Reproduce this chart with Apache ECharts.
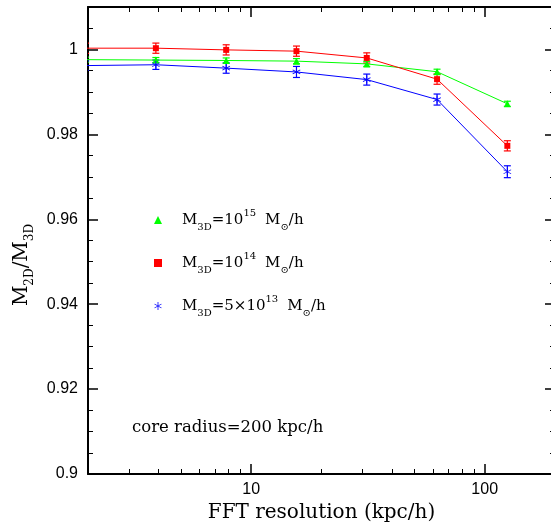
<!DOCTYPE html>
<html>
<head>
<meta charset="utf-8">
<script src="https://cdn.jsdelivr.net/npm/echarts@6/dist/echarts.min.js"></script>
<style>html,body{margin:0;padding:0;background:#fff;}#c{width:551px;height:525px;}</style>
</head>
<body>
<div id="c"></div>
<script>
// ---- data ----
const xRes = [1.953, 3.906, 7.8125, 15.625, 31.25, 62.5, 125];           // FFT resolution (kpc/h)
const ratio15 = [0.9976, 0.9975, 0.9974, 0.99725, 0.9966, 0.99475, 0.9872]; // M3D = 1e15
const err15   = [0.0006, 0.0006, 0.0006, 0.0006, 0.0006, 0.0006, 0.0006];
const ratio14 = [1.0003, 1.0003, 0.9999, 0.9996, 0.9980, 0.9930, 0.9773];   // M3D = 1e14
const err14   = [0.0012, 0.0012, 0.0012, 0.0012, 0.0012, 0.0012, 0.0012];
const ratio5e13 = [0.9962, 0.9964, 0.9956, 0.9947, 0.9929, 0.9882, 0.9712]; // M3D = 5e13
const err5e13   = [0.0011, 0.0011, 0.0012, 0.0013, 0.0013, 0.0013, 0.0014];

const yMajorTicks = [0.9, 0.92, 0.94, 0.96, 0.98, 1.0];
const yMinorTicks = [0.905, 0.91, 0.915, 0.925, 0.93, 0.935, 0.945, 0.95, 0.955,
                     0.965, 0.97, 0.975, 0.985, 0.99, 0.995, 1.005];
const xMajorTicks = [10, 100];
const xMinorTicks = [2, 3, 4, 5, 6, 7, 8, 9, 20, 30, 40, 50, 60, 70, 80, 90, 200];
const xMin = 2, xMax = 200, yMin = 0.9, yMax = 1.01;

const legendText = {
  s15: '{sp|}{m|M}{sub|3D}{m|=10}{sup|15}{gap|}{m|M}{sub|⊙}{m|/h}',
  s14: '{sp|}{m|M}{sub|3D}{m|=10}{sup|14}{gap|}{m|M}{sub|⊙}{m|/h}',
  s5e13: '{sp|}{m|M}{sub|3D}{m|=5×10}{sup|13}{gap|}{m|M}{sub|⊙}{m|/h}'
};
const colors = { s15: '#00ff00', s14: '#ff0000', s5e13: '#0000ff' };

// ---- helpers ----
const STAR = 'path://M45,0L55,0L55,100L45,100Z M95.8,29.3L90.8,20.7L4.2,70.7L9.2,79.3Z M90.8,79.3L95.8,70.7L9.2,20.7L4.2,29.3Z';
const SERIF = 'DejaVu Serif';
const SANS = 'Liberation Sans';
const richStyle = {
  sp: { width: 15 },
  gap: { width: 9 },
  m: { fontFamily: SERIF, fontSize: 15, lineHeight: 24, color: '#000' },
  sub: { fontFamily: SERIF, fontSize: 10, lineHeight: 11, verticalAlign: 'bottom', color: '#000' },
  sup: { fontFamily: SERIF, fontSize: 10, lineHeight: 11, verticalAlign: 'top', color: '#000' }
};

function pairs(xs, ys) { return xs.map((x, i) => [x, ys[i]]); }
function triples(xs, ys, es) { return xs.map((x, i) => [x, ys[i], es[i]]); }

function xTickAxis(position, ticks, len, width, opts) {
  opts = opts || {};
  return {
    type: 'value', position: position,
    min: Math.log10(xMin), max: Math.log10(xMax),
    axisLine: { show: !!opts.line, onZero: false, lineStyle: { color: '#000', width: 2 } },
    axisTick: { show: true, inside: true, length: len, customValues: ticks.map(Math.log10),
                lineStyle: { color: '#000', width: width } },
    axisLabel: opts.label ? {
      show: true, customValues: ticks.map(Math.log10), margin: 8,
      formatter: v => String(Math.round(Math.pow(10, v))),
      fontFamily: SANS, fontSize: 16, color: '#000'
    } : { show: false },
    splitLine: { show: false },
    name: opts.name || '', nameLocation: 'middle', nameGap: 29,
    nameTextStyle: { fontFamily: SERIF, fontSize: 20, color: '#000' }
  };
}
function yTickAxis(position, ticks, len, width, opts) {
  opts = opts || {};
  return {
    type: 'value', position: position, min: yMin, max: yMax,
    axisLine: { show: !!opts.line, onZero: false, lineStyle: { color: '#000', width: 2 } },
    axisTick: { show: true, inside: true, length: len, customValues: ticks,
                lineStyle: { color: '#000', width: width } },
    axisLabel: opts.label ? {
      show: true, customValues: ticks, margin: 10,
      formatter: v => String(+v.toFixed(2)),
      fontFamily: SANS, fontSize: 16, color: '#000'
    } : { show: false },
    splitLine: { show: false }
  };
}

function errRender(color) {
  return function (params, api) {
    const x = api.value(0), y = api.value(1), e = api.value(2);
    const t = api.coord([x, y + e]), b = api.coord([x, y - e]);
    const hw = 3.5;
    const st = { stroke: color, lineWidth: 1.2 };
    return { type: 'group', children: [
      { type: 'line', shape: { x1: t[0], y1: t[1], x2: b[0], y2: b[1] }, style: st },
      { type: 'line', shape: { x1: t[0] - hw, y1: t[1], x2: t[0] + hw, y2: t[1] }, style: st },
      { type: 'line', shape: { x1: b[0] - hw, y1: b[1], x2: b[0] + hw, y2: b[1] }, style: st }
    ]};
  };
}
function errSeries(color, data) {
  return { type: 'custom', xAxisIndex: 0, yAxisIndex: 0, clip: true, silent: true,
           renderItem: errRender(color), data: data, z: 3 };
}
function lineSeries(name, symbol, size, data) {
  return { type: 'line', name: name, xAxisIndex: 0, yAxisIndex: 0, data: data,
           symbol: symbol, symbolSize: size, showAllSymbol: true, clip: true,
           lineStyle: { color: colors[name], width: 1 },
           itemStyle: { color: colors[name] }, z: 4 };
}

const chart = echarts.init(document.getElementById('c'), null, { renderer: 'canvas' });
chart.setOption({
  animation: false,
  backgroundColor: '#fff',
  grid: { left: 88, top: 7, right: -4, bottom: 51, outerBoundsMode: 'none' },
  xAxis: [
    { type: 'log', logBase: 10, position: 'bottom', min: xMin, max: xMax,
      axisLine: { show: true, onZero: false, lineStyle: { color: '#000', width: 2 } },
      axisTick: { show: false }, axisLabel: { show: false }, splitLine: { show: false } },
    xTickAxis('bottom', xMajorTicks, 10, 1.5, { label: true, name: 'FFT resolution (kpc/h)' }),
    xTickAxis('bottom', xMinorTicks, 5, 1),
    xTickAxis('top', xMajorTicks, 10, 1.5, { line: true }),
    xTickAxis('top', xMinorTicks, 5, 1)
  ],
  yAxis: [
    yTickAxis('left', yMajorTicks, 10, 1.5, { label: true, line: true }),
    yTickAxis('left', yMinorTicks, 5, 1),
    yTickAxis('right', yMajorTicks, 10, 1.5, { line: true }),
    yTickAxis('right', yMinorTicks, 5, 1)
  ],
  legend: {
    data: [
      { name: 's15', icon: 'triangle' },
      { name: 's14', icon: 'rect' },
      { name: 's5e13', icon: STAR }
    ],
    orient: 'vertical', left: 149, top: 203, itemWidth: 8, itemHeight: 8, itemGap: 19,
    selectedMode: false,
    formatter: name => legendText[name],
    textStyle: { color: '#000', fontFamily: SERIF, fontSize: 15, rich: richStyle }
  },
  graphic: [
    { type: 'text', x: 22, y: 265, rotation: Math.PI / 2,
      style: { text: '{m|M}{sub|2D}{m|/M}{sub|3D}', align: 'center', verticalAlign: 'middle',
               rich: {
                 m: { fontFamily: SERIF, fontSize: 20, lineHeight: 28, fill: '#000' },
                 sub: { fontFamily: SERIF, fontSize: 12, lineHeight: 13, verticalAlign: 'bottom', fill: '#000' }
               } } },
    { type: 'text', left: 132, top: 419,
      style: { text: 'core radius=200 kpc/h', fontFamily: SERIF, fontSize: 16.5, fill: '#000' } }
  ],
  series: [
    errSeries(colors.s15, triples(xRes, ratio15, err15)),
    errSeries(colors.s14, triples(xRes, ratio14, err14)),
    errSeries(colors.s5e13, triples(xRes, ratio5e13, err5e13)),
    lineSeries('s15', 'triangle', 7, pairs(xRes, ratio15)),
    lineSeries('s14', 'rect', 6, pairs(xRes, ratio14)),
    lineSeries('s5e13', STAR, 8, pairs(xRes, ratio5e13))
  ]
});
</script>
</body>
</html>
